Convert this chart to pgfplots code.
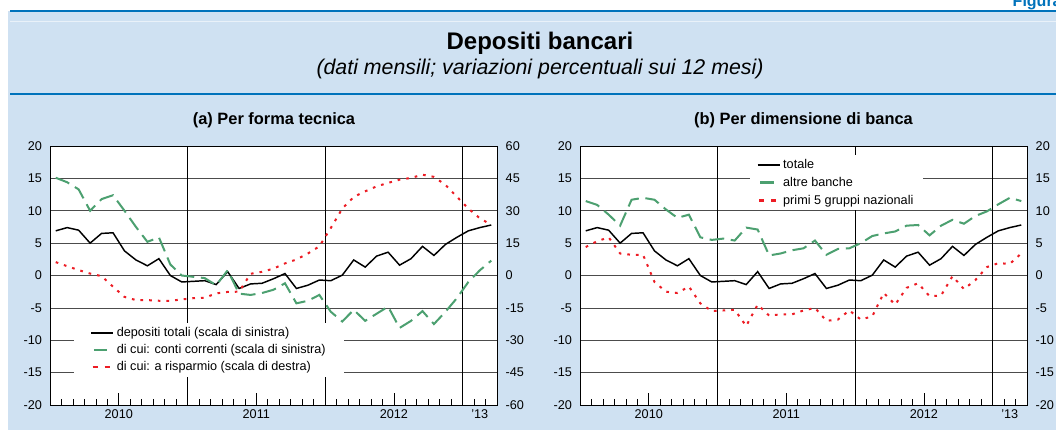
\documentclass[border=0pt]{standalone}
\usepackage{fontspec}
\setmainfont{Liberation Sans}
\usepackage{pgfplots}
\usepackage{pgfplotstable}
\pgfplotsset{compat=1.18}

\definecolor{bdiblue}{RGB}{0,114,187}
\definecolor{bgblue}{RGB}{207,225,242}
\definecolor{ccgreen}{RGB}{76,160,112}
\definecolor{risred}{RGB}{237,28,36}

% m = month (0.5 = Jan 2010); tot, cc, altre, primi on left scale; ris on right scale
\pgfplotstableread{
m    tot   cc    ris    altre primi
0.5  6.9   15.1  6.2    11.5  4.4
1.5  7.4   14.4  4.3    10.9  5.3
2.5  7.0   13.3  2.5    9.4   5.9
3.5  5.0   10.0  0.9    7.7   3.4
4.5  6.5   11.8  -0.3   11.7  3.2
5.5  6.6   12.4  -5.2   12.0  3.2
6.5  3.8   10.0  -9.9   11.7  -1.0
7.5  2.4   7.5   -11.4  10.2  -2.5
8.5  1.5   5.2   -11.4  8.9   -2.7
9.5  2.6   5.9   -11.7  9.4   -1.7
10.5 0.0   1.7   -11.7  5.9   -4.3
11.5 -1.0  0.0   -11.1  5.5   -5.5
12.5 -0.9  -0.2  -10.5  5.7   -5.4
13.5 -0.8  -0.4  -10.3  5.4   -5.3
14.5 -1.4  -1.5  -8.3   7.4   -7.8
15.5 0.6   0.8   -7.6   7.1   -4.5
16.5 -2.0  -2.8  -7.5   3.1   -6.2
17.5 -1.3  -3.0  0.8    3.4   -6.0
18.5 -1.2  -2.7  1.7    3.9   -6.0
19.5 -0.5  -2.2  3.2    4.2   -5.4
20.5 0.3   -1.2  5.6    5.4   -5.0
21.5 -2.0  -4.3  7.4    3.2   -7.0
22.5 -1.5  -3.9  10.2   4.1   -6.8
23.5 -0.7  -3.0  13.5   4.2   -5.4
24.5 -0.8  -5.6  22.0   5.0   -6.8
25.5 0.05  -7.1  31.0   6.1   -6.3
26.5 2.4   -5.3  36.4   6.5   -2.7
27.5 1.3   -7.0  39.0   6.8   -4.5
28.5 3.0   -5.9  41.3   7.7   -1.9
29.5 3.6   -4.8  42.9   7.8   -1.2
30.5 1.6   -8.1  44.4   6.2   -3.2
31.5 2.6   -7.0  45.2   7.7   -3.1
32.5 4.5   -5.5  46.7   8.6   -0.1
33.5 3.1   -7.5  45.7   8.0   -2.1
34.5 4.8   -5.6  42.0   9.2   -0.7
35.5 5.9   -3.5  36.5   9.9   1.3
36.5 6.9   -1.0  31.0   11.0  1.9
37.5 7.4   0.8   26.5   12.0  1.8
38.5 7.8   2.3   23.5   11.5  3.4
}\dep

\pgfplotsset{
  panel/.style={
    width=335.25pt, height=194.25pt, scale only axis,
    xmin=0, xmax=39, ymin=-20, ymax=20,
    font=\fontsize{9.5}{11}\selectfont,
    /pgf/number format/assume math mode=true,
    axis line style={black, line width=0.6pt},
    ytick style={draw=none},
    yticklabel style={/pgf/number format/fixed},
  },
  base/.style={
    panel,
    axis background/.style={fill=white},
    ytick={-20,-15,...,20}, ymajorgrids,
    grid style={black!70, line width=0.5pt},
    ytick pos=left, xtick pos=bottom, tick align=inside,
    yticklabel style={xshift=-2.5pt},
    xtick={6,18,30}, xticklabels={2010,2011,2012},
    minor xtick={1,2,3,4,5,7,8,9,10,11,13,14,15,16,17,19,20,21,22,23,25,26,27,28,29,31,32,33,34,35,37,38},
    major tick length=9pt, minor tick length=4.5pt,
    xtick style={black, line width=0.5pt},
    extra x ticks={37.5}, extra x tick labels={'13},
    extra x tick style={major tick length=0pt},
    legend cell align=left,
  },
  overlay/.style={
    panel, hide x axis, axis y line*=right,
    yticklabel style={xshift=3pt},
  },
  tot/.style={black, line width=1.1pt},
  ccs/.style={ccgreen, line width=1.5pt, dash pattern=on 11pt off 5pt},
  ris/.style={risred, line width=1.5pt, dash pattern=on 2pt off 4.5pt},
  ccleg/.style={legend image code/.code={
      \draw[ccgreen, line width=2pt] (2pt,0pt) -- (12pt,0pt);}},
  risleg/.style={legend image code/.code={
      \draw[risred, line width=2pt, dash pattern=on 4pt off 5pt] (1pt,0pt) -- (15pt,0pt);}},
  totleg/.style={legend image code/.code={
      \draw[black, line width=1.3pt] (0pt,0pt) -- (16.5pt,0pt);}},
}

\begin{document}
\begin{tikzpicture}[x=0.75pt, y=0.75pt]
\useasboundingbox (0,0) rectangle (1056,430);
\fill[bgblue] (8,0) rectangle (1056,419);
\draw[bdiblue, line width=1.9pt] (10,419) -- (1056,419);
\draw[white!55!bgblue, line width=0.6pt] (10,409) -- (1056,409);
\draw[bdiblue, line width=2.2pt] (10,336) -- (1056,336);
\node[anchor=base west, text=bdiblue, font=\bfseries\fontsize{12}{13}\selectfont] at (1008,423.5) {Figura 1};
\node[anchor=base, font=\bfseries\fontsize{18}{20}\selectfont] at (540,380.5) {Depositi bancari};
\node[anchor=base, font=\itshape\fontsize{16}{18}\selectfont] at (540,356) {(dati mensili; variazioni percentuali sui 12 mesi)};
\node[anchor=base, font=\bfseries\fontsize{12.3}{14}\selectfont] at (274,306) {(a) Per forma tecnica};
\node[anchor=base, font=\bfseries\fontsize{12.3}{14}\selectfont] at (803.5,306) {(b) Per dimensione di banca};

% (a) Per forma tecnica
\begin{axis}[base, at={(37.5pt,18.75pt)}, anchor=south west,
  legend style={at={(0.054,0.317)}, anchor=north west, draw=none, fill=white,
    font=\fontsize{9.5}{11}\selectfont, inner xsep=12pt, inner ysep=1pt,
    row sep=0.5pt},
]
\draw[black, line width=0.6pt] (12,-20) -- (12,20);
\draw[black, line width=0.6pt] (24,-20) -- (24,20);
\draw[black, line width=0.6pt] (36,-20) -- (36,20);
\addplot[tot, totleg] table[x=m, y=tot] {\dep};
\addlegendentry{depositi totali (scala di sinistra)}
\addplot[ccs, ccleg] table[x=m, y=cc] {\dep};
\addlegendentry{di cui: conti correnti (scala di sinistra)}
\addlegendimage{ris, risleg}
\addlegendentry{di cui: a risparmio (scala di destra)}
\end{axis}
\begin{axis}[overlay, at={(37.5pt,18.75pt)}, anchor=south west,
  ymin=-60, ymax=60, ytick={-60,-45,...,60}]
\addplot[ris] table[x=m, y=ris] {\dep};
\end{axis}

% (b) Per dimensione di banca
\begin{axis}[base, at={(435pt,18.75pt)}, anchor=south west,
  legend style={at={(0.38,0.965)}, anchor=north west, draw=none, fill=white,
    font=\fontsize{9.5}{11}\selectfont, inner xsep=5pt, inner ysep=1pt,
    row sep=1pt},
]
\draw[black, line width=0.6pt] (12,-20) -- (12,20);
\draw[black, line width=0.6pt] (24,-20) -- (24,20);
\draw[black, line width=0.6pt] (36,-20) -- (36,20);
\addplot[tot, totleg] table[x=m, y=tot] {\dep};
\addlegendentry{totale}
\addplot[ccs, ccleg] table[x=m, y=altre] {\dep};
\addlegendentry{altre banche}
\addplot[ris, risleg] table[x=m, y=primi] {\dep};
\addlegendentry{primi 5 gruppi nazionali}
\end{axis}
\begin{axis}[overlay, at={(435pt,18.75pt)}, anchor=south west,
  ytick={-20,-15,...,20}]
\addplot[draw=none] coordinates {(0,0)};
\end{axis}
\end{tikzpicture}
\end{document}
